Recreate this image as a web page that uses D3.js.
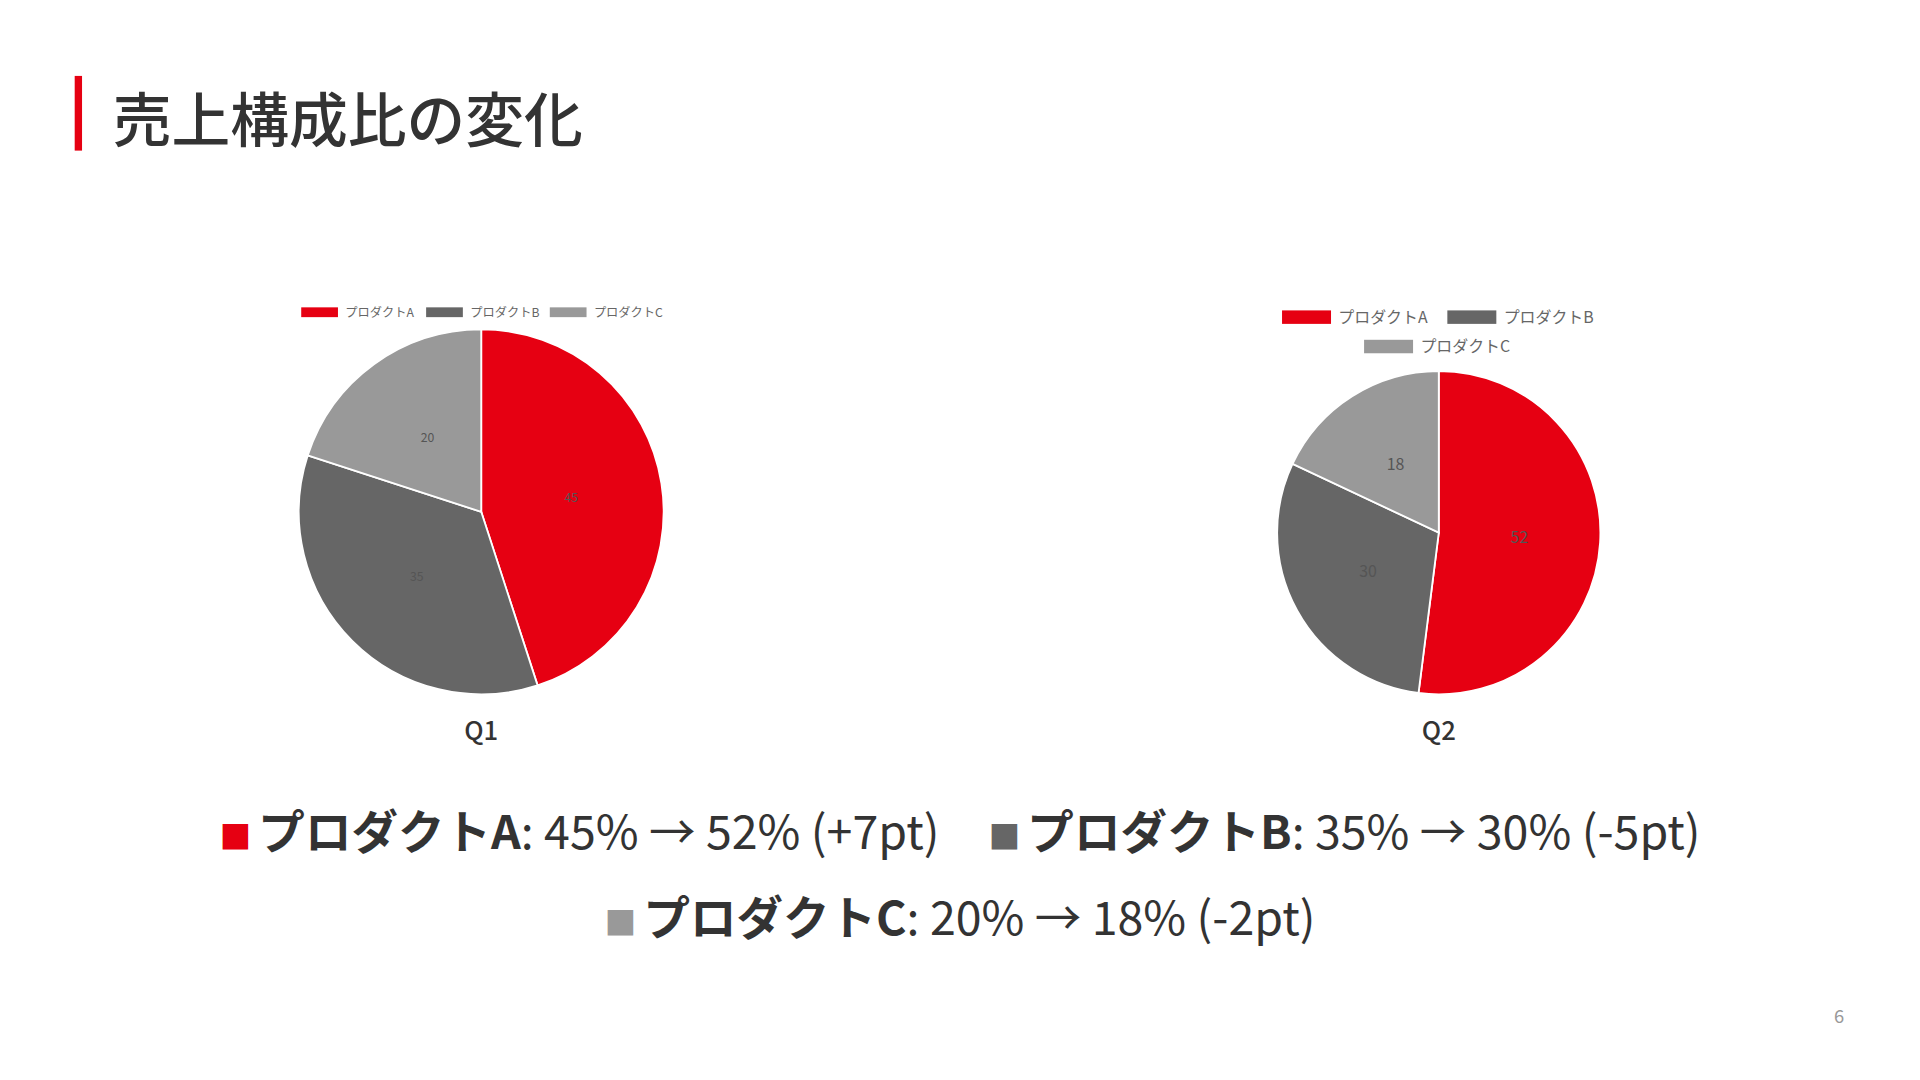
<!DOCTYPE html>
<html><head><meta charset="utf-8">
<script src="https://cdn.jsdelivr.net/npm/d3@7"></script>
<style>body{margin:0;background:#fff}svg{display:block;font-family:"Noto Sans CJK JP","Noto Sans",sans-serif}</style>
</head><body>
<svg id="chart" width="1920" height="1080" viewBox="0 0 1568 882"></svg>
<script>
var products = ["プロダクトA", "プロダクトB", "プロダクトC"];
var colors = ["#e60012", "#666666", "#999999"];
var q1Values = [45, 35, 20];
var q2Values = [52, 30, 18];
var quarters = ["Q1", "Q2"];

var svg = d3.select("#chart");
svg.append("rect").attr("x", 61).attr("y", 62).attr("width", 6).attr("height", 61).attr("fill", "#e60012");
svg.append("text").attr("x", 92).attr("y", 116).attr("font-size", 48).attr("font-weight", 500)
  .attr("fill", "#333").text("売上構成比の変化");

function drawPie(values, cx, cy, r, legend, label) {
  var g = svg.append("g").attr("transform", `translate(${cx},${cy})`);
  var pie = d3.pie().sort(null)(values);
  var arc = d3.arc().innerRadius(0).outerRadius(r);
  var lab = d3.arc().innerRadius(r * 0.5).outerRadius(r * 0.5);
  g.selectAll("path").data(pie).enter().append("path")
    .attr("d", arc).attr("fill", (d, i) => colors[i]).attr("stroke", "#fff").attr("stroke-width", 1.5);
  g.selectAll("text.v").data(pie).enter().append("text")
    .attr("transform", d => `translate(${lab.centroid(d)})`)
    .attr("text-anchor", "middle").attr("dy", "0.35em")
    .attr("font-size", legend.fs).attr("fill", "#555").text(d => d.data);
  // legend
  legend.items.forEach((it, i) => {
    svg.append("rect").attr("x", it[0]).attr("y", it[1] - legend.h / 2)
      .attr("width", legend.w).attr("height", legend.h).attr("fill", colors[i]);
    svg.append("text").attr("x", it[0] + legend.w + 6).attr("y", it[1]).attr("dy", "0.35em")
      .attr("font-size", legend.fs).attr("fill", "#666").text(products[i]);
  });
  svg.append("text").attr("x", cx).attr("y", 604).attr("text-anchor", "middle")
    .attr("font-size", 21).attr("font-weight", 500).attr("fill", "#333").text(label);
}
drawPie(q1Values, 393, 418, 149, {w: 30, h: 8, fs: 10, items: [[246, 255], [348, 255], [449, 255]]}, quarters[0]);
drawPie(q2Values, 1175, 435, 132, {w: 40, h: 11, fs: 13, items: [[1047, 259], [1182, 259], [1114, 283]]}, quarters[1]);

var lines = [
  [[0, 45, 52, "+7pt"], [1, 35, 30, "-5pt"]],
  [[2, 20, 18, "-2pt"]]
];
var ys = [680, 750];
lines.forEach((ln, li) => {
  var t = svg.append("text").attr("x", 784).attr("y", ys[li]).attr("dy", "0.35em")
    .attr("text-anchor", "middle").attr("font-size", 38).attr("fill", "#333");
  ln.forEach((d, k) => {
    t.append("tspan").attr("fill", colors[d[0]]).attr("font-size", 26).attr("dx", k ? 40 : 0).text("■ ");
    t.append("tspan").attr("font-weight", 700).attr("font-size", 38).text(products[d[0]]);
    t.append("tspan").attr("font-size", 38).text(`: ${d[1]}% → ${d[2]}% (${d[3]})`);
  });
});
svg.append("text").attr("x", 1502).attr("y", 830).attr("dy", "0.35em").attr("text-anchor", "middle")
  .attr("font-size", 15).attr("fill", "#999").text("6");
</script>
</body></html>
